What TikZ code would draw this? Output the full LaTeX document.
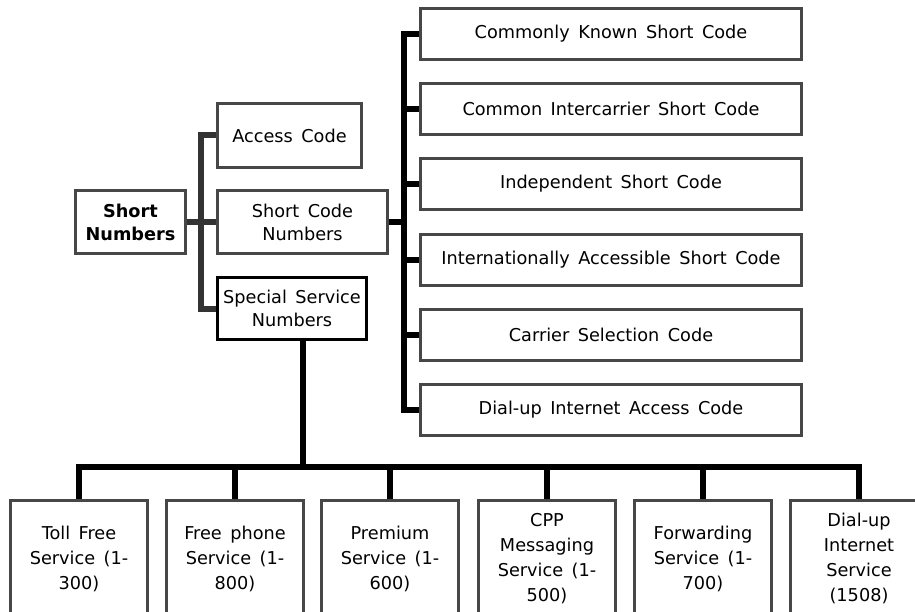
\documentclass[tikz,border=0pt]{standalone}
\usepackage{fontspec}
\setmainfont[WordSpace=1.5]{DejaVu Sans}
\begin{document}
\begin{tikzpicture}[x=1pt,y=-1pt,
  box/.style={draw=black!72, line width=1.8pt, fill=white, inner sep=0pt,
    align=center, font=\fontsize{17.7}{25}\selectfont},
  root/.style={box, font=\fontsize{17.7}{23}\selectfont\bfseries},
  mid/.style={box, font=\fontsize{17.7}{23}\selectfont},
  wide/.style={box, minimum width=380pt, minimum height=50pt},
  leaf/.style={box, minimum width=136pt, minimum height=115pt},
  greylink/.style={draw=black!80, line width=6pt},
  blacklink/.style={draw=black, line width=5.5pt}]
\useasboundingbox (0,0) rectangle (915,612);
\clip (0,0) rectangle (915,612);

% left column
\node[root, minimum width=109pt, minimum height=62pt] (sn) at (130.5,222) {Short\\Numbers};
\node[mid, minimum width=143pt, minimum height=63pt] (ac) at (289.5,135.5) {Access Code};
\node[mid, minimum width=169pt, minimum height=62pt] (scn) at (302.5,222) {Short Code\\Numbers};
\node[mid, draw=black, minimum width=148pt, minimum height=61pt] (ssn) at (292,308.5) {Special Service\\Numbers};

% short code types
\node[wide] (r1) at (611,34)  {Commonly Known Short Code};
\node[wide] (r2) at (611,109) {Common Intercarrier Short Code};
\node[wide] (r3) at (611,184) {Independent Short Code};
\node[wide] (r4) at (611,260) {Internationally Accessible Short Code};
\node[wide] (r5) at (611,335) {Carrier Selection Code};
\node[wide] (r6) at (611,410) {Dial-up Internet Access Code};

% special service types
\node[leaf] (b1) at (79,558.5)  {Toll Free\\Service (1-\\300)};
\node[leaf] (b2) at (235,558.5) {Free phone\\Service (1-\\800)};
\node[leaf] (b3) at (390,558.5) {Premium\\Service (1-\\600)};
\node[leaf] (b4) at (547,558.5) {CPP\\Messaging\\Service (1-\\500)};
\node[leaf] (b5) at (703,558.5) {Forwarding\\Service (1-\\700)};
\node[leaf] (b6) at (859,558.5) {Dial-up\\Internet\\Service\\(1508)};

% junction points
\coordinate (lt) at (201,222);
\coordinate (rt) at (404,222);
\coordinate (drop) at ([xshift=11pt]ssn.south);
\coordinate (bus) at (303,467);

% connectors
\draw[greylink] (sn.east) -- (scn.west);
\draw[greylink] (ac.west) -| (lt) |- (ssn.west);

\draw[blacklink] (scn.east) -- (rt);
\draw[blacklink] (r1.west) -| (rt) |- (r6.west);
\foreach \n in {r2,r3,r4,r5} \draw[blacklink] (\n.west) -- (\n.west -| rt);

\draw[blacklink] (drop) -- (bus);
\draw[blacklink] (b1.north) |- (bus) -| (b6.north);
\foreach \n in {b2,b3,b4,b5} \draw[blacklink] (\n.north) -- (\n.north |- bus);

% box borders drawn again over the link ends
\foreach \n in {sn,ac,scn,r1,r2,r3,r4,r5,r6,b1,b2,b3,b4,b5,b6}
  \draw[black!72, line width=1.8pt] (\n.north west) rectangle (\n.south east);
\draw[black, line width=1.8pt] (ssn.north west) rectangle (ssn.south east);
\end{tikzpicture}
\end{document}
